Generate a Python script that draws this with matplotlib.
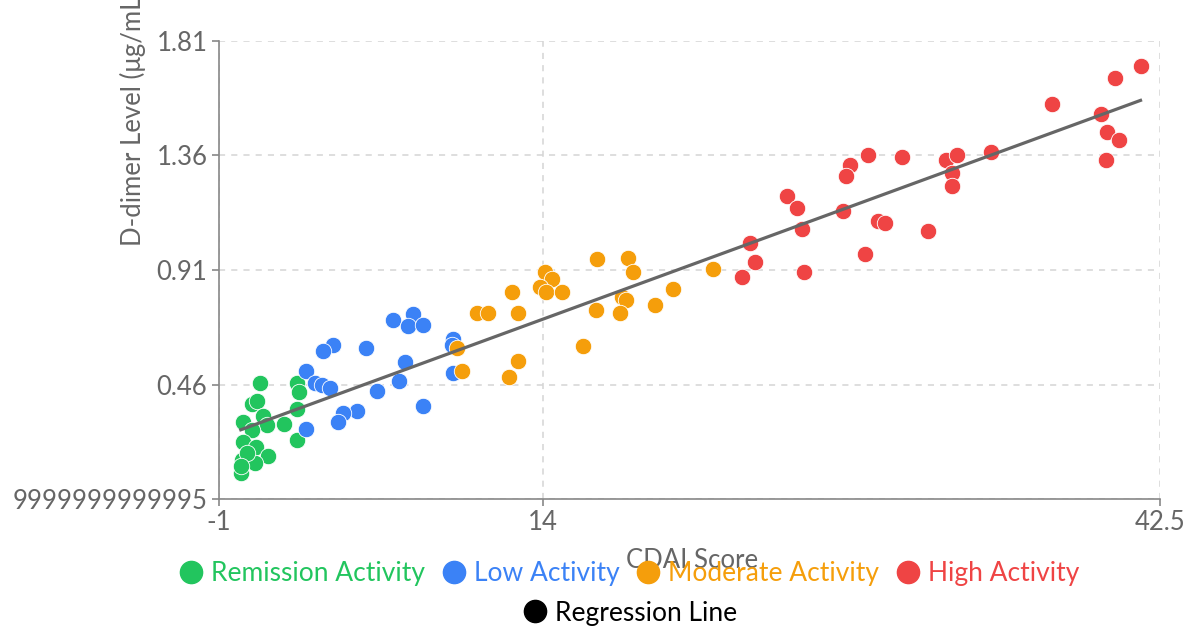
import matplotlib
matplotlib.use("Agg")
import matplotlib.pyplot as plt
from matplotlib.lines import Line2D
import numpy as np

plt.rcParams['font.family'] = ['Lato', 'DejaVu Sans']

# ---- data ----
remission_x = [0.92, 2.64, 2.73, 0.53, 0.76, 2.61, 0.12, 1.07, 1.23, 0.53, 2.03, 2.61,
               0.12, 0.73, 1.30, 0.07, 0.69, 0.03, 0.30, 0.04]
remission_y = [0.468, 0.468, 0.432, 0.384, 0.397, 0.363, 0.315, 0.337, 0.302, 0.282, 0.306, 0.243,
               0.236, 0.214, 0.181, 0.164, 0.151, 0.112, 0.191, 0.141]

low_x = [7.05, 7.97, 7.74, 8.43, 4.30, 3.81, 5.81, 9.85, 9.77, 3.04, 7.63, 3.46, 3.77, 4.15,
         7.35, 6.33, 9.85, 8.43, 5.41, 4.74, 4.53, 3.04]
low_y = [0.714, 0.737, 0.690, 0.694, 0.616, 0.593, 0.605, 0.638, 0.616, 0.515, 0.548, 0.468, 0.459, 0.446,
         0.474, 0.436, 0.505, 0.376, 0.357, 0.348, 0.315, 0.285]

moderate_x = [16.47, 17.93, 18.16, 14.08, 14.39, 13.85, 14.13, 14.85, 12.54, 10.93, 11.46, 12.85,
              16.44, 17.62, 17.85, 17.55, 19.16, 19.98, 21.85, 15.85, 10.03, 12.85, 10.23, 12.43]
moderate_y = [0.952, 0.956, 0.901, 0.903, 0.874, 0.845, 0.825, 0.823, 0.823, 0.742, 0.742, 0.742,
              0.753, 0.803, 0.792, 0.742, 0.773, 0.834, 0.913, 0.612, 0.603, 0.554, 0.514, 0.491]

high_x = [41.60, 40.40, 37.50, 39.79, 40.05, 40.61, 39.99, 34.68, 32.63, 33.10, 32.91, 32.88,
          30.56, 28.99, 28.17, 27.97, 25.27, 25.75, 27.86, 29.48, 29.79, 25.97, 31.79, 23.55,
          23.78, 28.86, 23.17, 26.06]
high_y = [1.711, 1.662, 1.562, 1.522, 1.453, 1.420, 1.342, 1.372, 1.342, 1.361, 1.292, 1.241,
          1.352, 1.361, 1.322, 1.280, 1.202, 1.152, 1.142, 1.104, 1.093, 1.071, 1.063, 1.015,
          0.943, 0.973, 0.881, 0.903]

reg_slope = 0.0311
reg_intercept = 0.282

series_names = ["Remission Activity", "Low Activity", "Moderate Activity", "High Activity"]
series_colors = ["#22c55e", "#3b82f6", "#f59e0b", "#ef4444"]
reg_name = "Regression Line"

x_ticks = [-1, 14, 42.5]
x_tick_labels = ["-1", "14", "42.5"]
y_ticks = [0.01, 0.46, 0.91, 1.36, 1.81]
y_tick_labels = ["9999999999995", "0.46", "0.91", "1.36", "1.81"]

x_label = "CDAI Score"
y_label = "D-dimer Level (μg/mL)"

# ---- figure ----
W, H = 1195, 633
FS = 18.5
fig = plt.figure(figsize=(W / 100, H / 100), dpi=100)
ax = fig.add_axes([218.5 / W, 1 - 499.3 / H, (1160 - 218.5) / W, (499.3 - 40.7) / H])

all_series = [(remission_x, remission_y), (low_x, low_y), (moderate_x, moderate_y), (high_x, high_y)]
for (xs, ys), c in zip(all_series, series_colors):
    ax.scatter(xs, ys, s=140, color=c, edgecolors='white', linewidths=0.6, zorder=3)

all_x = np.concatenate([np.array(s[0]) for s in all_series])
lx = np.array([all_x.min(), all_x.max()])
ax.plot(lx, reg_intercept + reg_slope * lx, color="#666666", lw=2.3, zorder=4)

ax.set_xlim(x_ticks[0], x_ticks[-1])
ax.set_ylim(y_ticks[0], y_ticks[-1])
ax.set_xticks(x_ticks)
ax.set_xticklabels(x_tick_labels)
ax.set_yticks(y_ticks)
ax.set_yticklabels(y_tick_labels)

for s in ['top', 'right']:
    ax.spines[s].set_visible(False)
for s in ['left', 'bottom']:
    ax.spines[s].set_color('#888888')
    ax.spines[s].set_linewidth(1.2)
ax.tick_params(axis='both', direction='out', length=5, width=1.2, color='#888888',
               labelcolor='#666666', labelsize=FS, pad=3)
ax.grid(True, linestyle=(0, (4, 4)), color='#d4d4d4', linewidth=1.1, zorder=0)
ax.set_axisbelow(True)

# x label (overlaps the legend in the reference too)
fig.text(692 / W, 1 - 560 / H, x_label, ha='center', va='center', color='#666666', fontsize=FS)
# y label (top clipped as in reference)
fig.text(133 / W, 1 - 246 / H, y_label, rotation=90, rotation_mode='anchor',
         ha='left', va='center', color='#666666', fontsize=FS)

LFS = 19
handles = [Line2D([], [], marker='o', linestyle='', markersize=16, color=c) for c in series_colors]
fig.legend(handles, series_names, loc='center', bbox_to_anchor=(630 / W, 1 - 574 / H), ncol=4,
           frameon=False, fontsize=LFS, labelcolor=series_colors, handlelength=0.8,
           handletextpad=0.35, columnspacing=0.7, borderpad=0, borderaxespad=0)
h2 = [Line2D([], [], marker='o', linestyle='', markersize=16, color='black')]
fig.legend(h2, [reg_name], loc='center', bbox_to_anchor=(631 / W, 1 - 613 / H), ncol=1,
           frameon=False, fontsize=LFS, labelcolor=['black'], handlelength=0.8,
           handletextpad=0.35, borderpad=0, borderaxespad=0)

fig.savefig("out.png", dpi=100)
